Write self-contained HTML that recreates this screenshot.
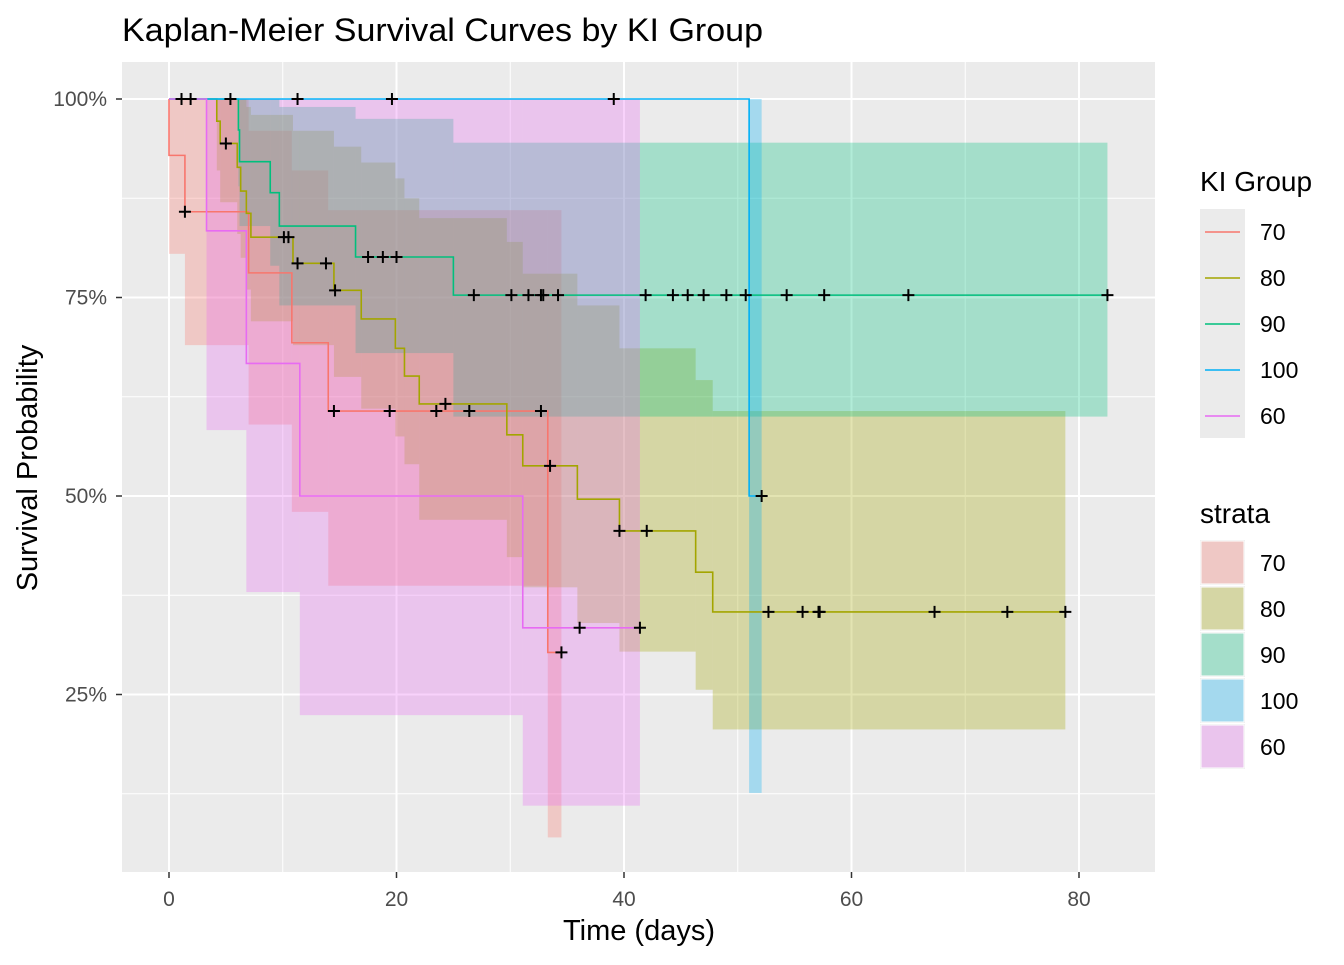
<!DOCTYPE html>
<html><head><meta charset="utf-8"><style>
body{margin:0;background:#fff;font-family:"Liberation Sans",Arial,sans-serif}
svg text{font-family:"Liberation Sans",Arial,sans-serif}
</style></head><body>
<svg id="c" width="1344" height="960" viewBox="0 0 1344 960" xmlns="http://www.w3.org/2000/svg">
<text x="122" y="41" font-size="32" textLength="641" lengthAdjust="spacingAndGlyphs" fill="#000">Kaplan-Meier Survival Curves by KI Group</text>
<rect x="122" y="62" width="1033" height="810" fill="#ebebeb"/>
<g id="grid"></g><g id="bands"></g><g id="lines"></g><g id="marks"></g><g id="axes"></g><g id="legend"></g>
<text x="639" y="940" font-size="29" text-anchor="middle" fill="#000">Time (days)</text>
<text transform="translate(37,468) rotate(-90)" font-size="29" text-anchor="middle" fill="#000">Survival Probability</text>
</svg>
<script>
const groups = ["70","80","90","100","60"];
const colors = ["#F8766D","#A3A500","#00BF7D","#00B0F6","#E76BF3"];
const t70 = [0,0,1.4,7.0,10.8,14.0,33.3];
const s70 = [1,0.929,0.858,0.781,0.693,0.607,0.303];
const u70 = [1,1,1,0.96,0.91,0.86,0.86];
const l70 = [1,0.805,0.69,0.59,0.48,0.387,0.07];
const t80 = [0,4.2,4.5,6.0,6.3,6.8,7.2,10.9,14.5,16.9,19.9,20.7,22.0,29.7,31.1,35.9,39.6,46.3,47.8];
const s80 = [1,0.972,0.944,0.914,0.884,0.856,0.826,0.793,0.759,0.723,0.686,0.651,0.616,0.577,0.538,0.496,0.456,0.404,0.354];
const u80 = [1,1,1,1,1,0.99,0.98,0.96,0.94,0.92,0.90,0.875,0.85,0.82,0.78,0.74,0.686,0.646,0.607];
const l80 = [1,0.91,0.87,0.83,0.80,0.76,0.72,0.69,0.65,0.61,0.575,0.54,0.47,0.423,0.385,0.34,0.304,0.256,0.206];
const t90 = [0,6.1,6.2,8.9,9.7,16.4,25.0];
const s90 = [1,0.961,0.921,0.882,0.840,0.801,0.753];
const u90 = [1,1,1,1,0.99,0.975,0.945];
const l90 = [1,0.89,0.84,0.79,0.74,0.68,0.60];
const t100 = [0,51.0];
const s100 = [1,0.5];
const u100 = [1,1];
const l100 = [1,0.126];
const t60 = [0,3.3,6.8,11.5,31.1];
const s60 = [1,0.834,0.667,0.50,0.334];
const u60 = [1,1,1,1,1];
const l60 = [1,0.583,0.379,0.224,0.11];
const end70 = 34.5, end80 = 78.8, end90 = 82.5, end100 = 52.1, end60 = 41.4;
const c70 = [1.4,14.5,19.4,23.5,26.4,32.7,34.5];
const c80 = [5.0,10.1,10.5,11.3,13.8,14.6,24.3,33.5,39.6,42.0,52.7,55.7,57.1,57.2,67.3,73.7,78.8];
const c90 = [17.5,18.8,20.0,26.8,30.1,31.6,32.7,32.9,34.2,41.9,44.3,45.6,47.0,49.0,50.7,54.3,57.6,65.0,82.5];
const c100 = [5.4,11.3,19.6,39.1,52.1];
const c60 = [1.1,1.9,36.1,41.4];
const xTicks = [0,20,40,60,80];
const yTicks = [0.25,0.5,0.75,1.0];
const yTickLabels = ["25%","50%","75%","100%"];

const X = t => 169 + t*11.375;
const Y = s => 99 + (1-s)*100*7.94;
const NS="http://www.w3.org/2000/svg";
function mk(tag,attrs,parent){const e=document.createElementNS(NS,tag);for(const k in attrs)e.setAttribute(k,attrs[k]);document.getElementById(parent).appendChild(e);return e;}
for(let i=0;i<xTicks.length+1;i++){const m=xTicks[0]-10+i*20;const x=X(m);if(x>122&&x<1155){const g=mk('line',{x1:x,x2:x,y1:62,y2:872,stroke:'#fff','stroke-width':1},'grid');

}}
xTicks.forEach(v=>{const g=mk('line',{x1:X(v),x2:X(v),y1:62,y2:872,stroke:'#fff','stroke-width':2},'grid');


const t=mk('text',{x:X(v),y:906,'font-size':21,'text-anchor':'middle',fill:'#4d4d4d'},'axes');t.textContent=v;


const k=mk('line',{x1:X(v),x2:X(v),y1:872,y2:878,stroke:'#333','stroke-width':1.5},'axes');

});
[0.125,0.375,0.625,0.875].forEach(v=>{const g=mk('line',{x1:122,x2:1155,y1:Y(v),y2:Y(v),stroke:'#fff','stroke-width':1},'grid');

});
yTicks.forEach((v,i)=>{const g=mk('line',{x1:122,x2:1155,y1:Y(v),y2:Y(v),stroke:'#fff','stroke-width':2},'grid');


const t=mk('text',{x:107,y:Y(v)+7,'font-size':21,'text-anchor':'end',fill:'#4d4d4d'},'axes');t.textContent=yTickLabels[i];


const k=mk('line',{x1:116,x2:122,y1:Y(v),y2:Y(v),stroke:'#333','stroke-width':1.5},'axes');

});
const data=[[t70,s70,u70,l70,end70,c70],[t80,s80,u80,l80,end80,c80],[t90,s90,u90,l90,end90,c90],[t100,s100,u100,l100,end100,c100],[t60,s60,u60,l60,end60,c60]];
data.forEach((d,gi)=>{const [t,s,u,l,end,cs]=d;const col=colors[gi];
 for(let i=0;i<t.length;i++){const t2=i<t.length-1?t[i+1]:end;if(t2<=t[i])continue;
  const r=mk('rect',{x:X(t[i]),y:Y(u[i]),width:X(t2)-X(t[i]),height:Y(l[i])-Y(u[i]),fill:col,'fill-opacity':0.3},'bands');
  
  }
 let p='M'+X(t[0])+' '+Y(s[0]);
 for(let i=1;i<t.length;i++){p+=' H'+X(t[i])+' V'+Y(s[i]);}
 p+=' H'+X(end);
 const ln=mk('path',{d:p,fill:'none',stroke:col,'stroke-width':1.6},'lines');
 
 
 cs.forEach(c=>{let v=s[0];for(let i=0;i<t.length;i++){if(t[i]<=c)v=s[i];}
  const m=mk('path',{d:`M${X(c)-6} ${Y(v)} h12 M${X(c)} ${Y(v)-6} v12`,stroke:'#000','stroke-width':2},'marks');
  
  });
});
function txt(x,y,s,str,nm){const t=mk('text',{x:x,y:y,'font-size':s,fill:'#000'},'legend');t.textContent=str;

}
txt(1200,191,28,'KI Group','legend-title-ki-group');
const bg=mk('rect',{x:1200,y:209,width:45,height:229,fill:'#ebebeb'},'legend');


groups.forEach((g,i)=>{const y=232+i*46;
 const l=mk('line',{x1:1205,x2:1240,y1:y,y2:y,stroke:colors[i],'stroke-width':1.6},'legend');
 
 
 txt(1260,y+8,23,g,'legend-label-'+g);});
txt(1200,523,28,'strata','legend-title-strata');
groups.forEach((g,i)=>{const y=540+i*46;
 const b=mk('rect',{x:1200,y:y,width:45,height:45,fill:'#ebebeb'},'legend');
 
 
 const r=mk('rect',{x:1201,y:y+1,width:43,height:43,fill:colors[i],'fill-opacity':0.3,stroke:'#fff','stroke-width':1},'legend');
 
 
 txt(1260,y+31,23,g,'legend-strata-label-'+g);});
</script>
</body></html>
